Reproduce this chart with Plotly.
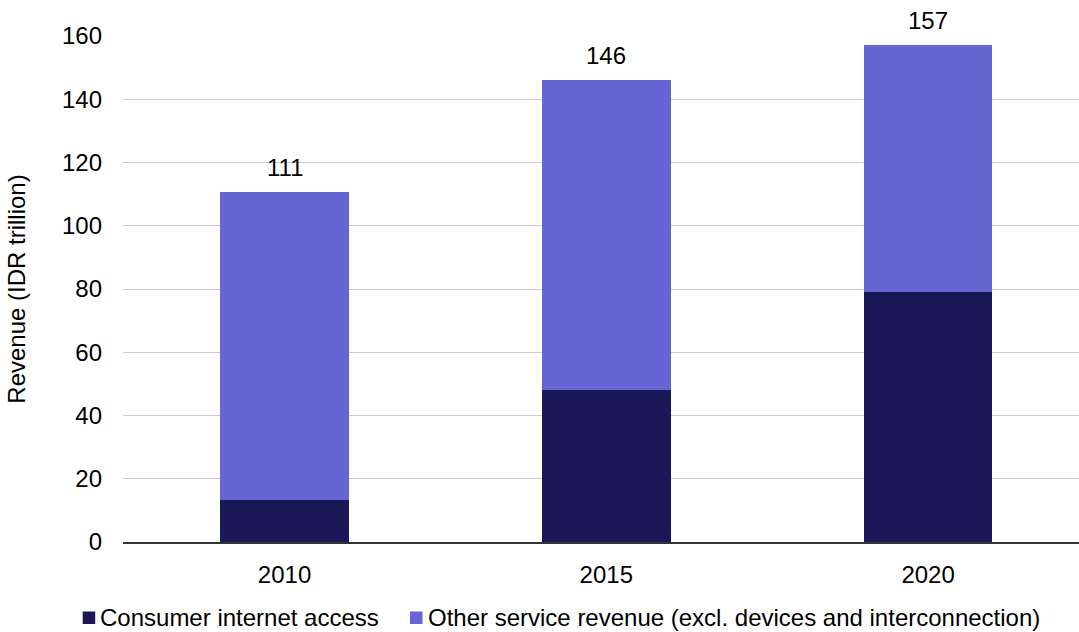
import plotly.graph_objects as go

years = ["2010", "2015", "2020"]
consumer_internet = [13.2, 48.2, 79.2]
other_service = [97.5, 97.8, 78.0]
totals = [110.7, 146.0, 157.2]
total_labels = ["111", "146", "157"]
y_ticks = [0, 20, 40, 60, 80, 100, 120, 140, 160]
series_names = ["Consumer internet access",
                "Other service revenue (excl. devices and interconnection)"]

FONT = "Liberation Sans, Arial, sans-serif"
DARK = "#1b1858"
LIGHT = "#6764d3"
FS = 24

W, H = 1079, 632
ML, MR, MT, MB = 123, 0, 36, 90
PW, PH = W - ML - MR, H - MT - MB


def px(x):
    return (x - ML) / PW


def py(y):
    return (H - MB - y) / PH


fig = go.Figure()
fig.add_trace(go.Bar(
    x=years, y=consumer_internet, name=series_names[0],
    marker=dict(color=DARK, line=dict(width=0)), width=0.4, showlegend=False,
))
fig.add_trace(go.Bar(
    x=years, y=other_service, name=series_names[1],
    marker=dict(color=LIGHT, line=dict(width=0)), width=0.4, showlegend=False,
))
for i, (tot, lab) in enumerate(zip(totals, total_labels)):
    fig.add_annotation(
        x=i, y=tot, xref="x", yref="y", text=lab, showarrow=False,
        yanchor="bottom", yshift=9,
        font=dict(size=FS, color="#000000", family=FONT),
    )

# custom legend (square swatch + label)
LEG_CY = 617.5
legend_items = [(series_names[0], DARK, 82.7, 99.0),
                (series_names[1], LIGHT, 410.0, 426.5)]
for name, col, sx, tx in legend_items:
    fig.add_shape(type="rect", xref="paper", yref="paper",
                  x0=px(sx), x1=px(sx + 12.5),
                  y0=py(LEG_CY + 6.5), y1=py(LEG_CY - 6),
                  fillcolor=col, line=dict(width=0))
    fig.add_annotation(x=px(tx), y=py(LEG_CY - 0.5), xref="paper", yref="paper",
                       text=name, showarrow=False, xanchor="left",
                       yanchor="middle", borderpad=0,
                       font=dict(size=FS, color="#000000", family=FONT))

fig.update_layout(
    barmode="stack",
    width=W, height=H,
    margin=dict(l=ML, r=MR, t=MT, b=MB),
    paper_bgcolor="white", plot_bgcolor="white",
    font=dict(family=FONT, size=FS, color="#000000"),
    showlegend=False,
    xaxis=dict(
        type="category",
        range=[-0.502, 2.469], showgrid=False, showline=True,
        linecolor="#333333", linewidth=1.5, ticks="", ticklabelstandoff=10,
        tickfont=dict(size=FS, color="#000000"),
    ),
    yaxis=dict(
        range=[0, 160], tickvals=y_ticks, showgrid=True, gridcolor="#cccccc",
        gridwidth=1, showline=False, zeroline=False, ticks="",
        ticklabelstandoff=20, tickfont=dict(size=FS, color="#000000"),
        title=dict(text="Revenue (IDR trillion)", font=dict(size=FS, color="#000000"),
                   standoff=29),
    ),
)

fig.write_html("out.html")
